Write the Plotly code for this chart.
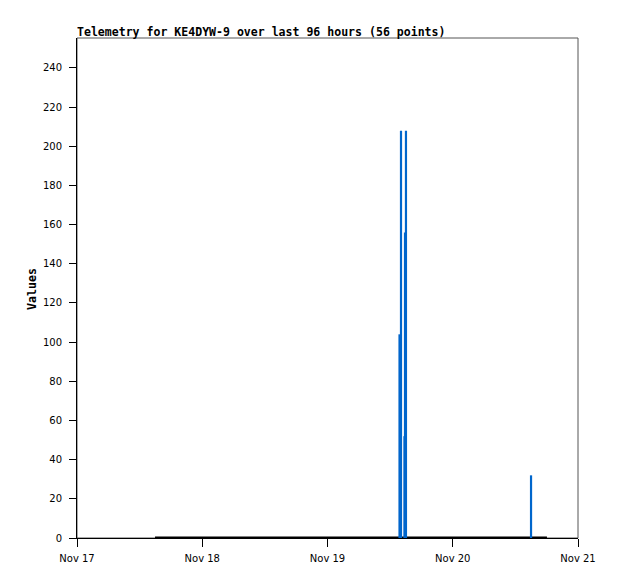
import plotly.graph_objects as go

# Telemetry impulses (time, value)
impulse_times = [
    "2023-11-19 13:48", "2023-11-19 14:05", "2023-11-19 14:45",
    "2023-11-19 14:51", "2023-11-19 15:02", "2023-11-20 15:00",
]
impulse_values = [104, 208, 52, 156, 208, 32]

# Zero-valued telemetry baseline
baseline_times = ["2023-11-17 14:57", "2023-11-20 18:03"]
baseline_values = [0, 0]

x_ticks = ["2023-11-17", "2023-11-18", "2023-11-19", "2023-11-20", "2023-11-21"]
x_tick_labels = ["Nov 17", "Nov 18", "Nov 19", "Nov 20", "Nov 21"]
y_ticks = list(range(0, 241, 20))

title_text = "Telemetry for KE4DYW-9 over last 96 hours (56 points)"

# Build impulse segments from data
ix, iy = [], []
for t, v in zip(impulse_times, impulse_values):
    ix += [t, t, None]
    iy += [0, v, None]

fig = go.Figure()
fig.add_trace(go.Scatter(x=baseline_times, y=baseline_values, mode="lines",
                         line=dict(color="black", width=3), hoverinfo="skip",
                         showlegend=False, cliponaxis=False))
fig.add_trace(go.Scatter(x=ix, y=iy, mode="lines",
                         line=dict(color="#0066CC", width=2.2),
                         showlegend=False, cliponaxis=False))

tickfont = dict(family="DejaVu Sans, sans-serif", size=10, color="black")
fig.update_layout(
    width=610, height=571,
    margin=dict(l=69, r=40, t=30, b=41),
    paper_bgcolor="white", plot_bgcolor="white",
    showlegend=False,
    xaxis=dict(
        type="date", range=["2023-11-17", "2023-11-21"],
        tickvals=x_ticks, ticktext=x_tick_labels,
        ticks="outside", ticklen=8, tickcolor="black", tickwidth=1,
        ticklabelstandoff=3,
        showgrid=False, zeroline=False,
        showline=True, linecolor="black", linewidth=1,
        tickfont=tickfont,
    ),
    yaxis=dict(
        range=[0, 255.3], tickvals=y_ticks,
        ticks="outside", ticklen=7, tickcolor="black", tickwidth=1,
        ticklabelstandoff=5,
        showgrid=False, zeroline=False,
        showline=True, linecolor="black", linewidth=1,
        tickfont=tickfont,
    ),
    shapes=[dict(type="rect", xref="paper", yref="paper", x0=0, x1=1, y0=0, y1=1,
                 line=dict(color="#555555", width=1), layer="below")],
    annotations=[
        dict(text=title_text, xref="paper", yref="paper",
             x=0, y=1, xanchor="left", yanchor="bottom", yshift=-3, xshift=-2,
             showarrow=False,
             font=dict(family="DejaVu Sans Mono", size=11.55, color="black", weight="bold")),
        dict(text="Values", xref="paper", yref="paper",
             x=(32 - 77) / 501, y=0.498, xanchor="center", yanchor="middle",
             textangle=-90, showarrow=False,
             font=dict(family="DejaVu Sans Mono", size=11.6, color="black", weight="bold")),
    ],
)

fig.write_html("out.html")
